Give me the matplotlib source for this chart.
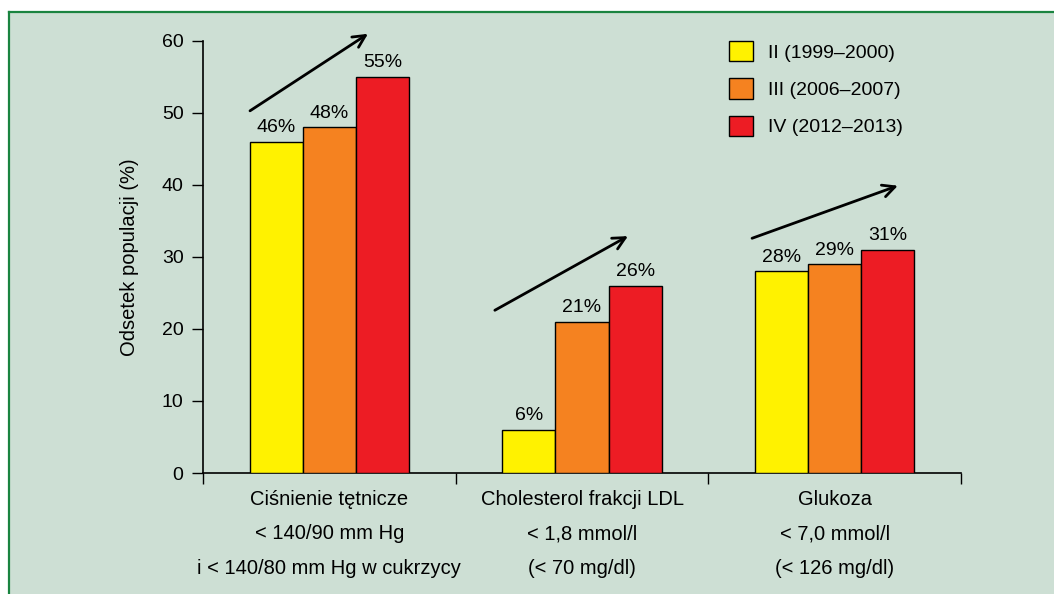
import matplotlib.pyplot as plt
from matplotlib.patches import Rectangle
import numpy as np

plt.rcParams['font.family'] = ['Liberation Sans', 'DejaVu Sans']

# Data
categories = ['Ciśnienie tętnicze\n< 140/90 mm Hg\ni < 140/80 mm Hg w cukrzycy',
              'Cholesterol frakcji LDL\n< 1,8 mmol/l\n(< 70 mg/dl)',
              'Glukoza\n< 7,0 mmol/l\n(< 126 mg/dl)']
series_names = ['II (1999–2000)', 'III (2006–2007)', 'IV (2012–2013)']
values_ii = [46, 6, 28]
values_iii = [48, 21, 29]
values_iv = [55, 26, 31]
colors = ['#fff200', '#f58220', '#ed1c24']

# Trend arrows (start, end) in data coords
arrows = [((-0.314, 50.3), (0.153, 61.0)),
          ((0.655, 22.6), (1.182, 32.9)),
          ((1.673, 32.6), (2.25, 39.9))]

fig = plt.figure(figsize=(10.54, 5.94), dpi=100, facecolor='white')

# greenish panel with green border on top and left
panel_x0 = 9 / 1054
panel_y1 = 1 - 12 / 594
fig.add_artist(Rectangle((panel_x0, 0), 1 - panel_x0, panel_y1,
                         transform=fig.transFigure, facecolor='#cddfd4',
                         edgecolor='none', zorder=-10))
fig.add_artist(plt.Line2D([panel_x0, panel_x0], [0, panel_y1], color='#1a8440', lw=1.6,
                          transform=fig.transFigure, zorder=-5))
fig.add_artist(plt.Line2D([panel_x0, 1], [panel_y1, panel_y1], color='#1a8440', lw=1.6,
                          transform=fig.transFigure, zorder=-5))

ax = fig.add_axes([0.1926, 0.2037, 0.7192, 0.7273])
ax.set_facecolor('none')

x = np.arange(len(categories))
w = 0.21
for i, vals in enumerate([values_ii, values_iii, values_iv]):
    bars = ax.bar(x + (i - 1) * w, vals, w, color=colors[i], edgecolor='black',
                  linewidth=1.0, label=series_names[i], zorder=3)
    ax.bar_label(bars, labels=[f'{v}%' for v in vals], padding=4, fontsize=14)

for (x0, y0), (x1, y1) in arrows:
    ax.annotate('', xy=(x1, y1), xytext=(x0, y0), annotation_clip=False,
                arrowprops=dict(arrowstyle='->', lw=2, color='black',
                                mutation_scale=22, shrinkA=0, shrinkB=0))

ax.set_xlim(-0.5, 2.5)
ax.set_ylim(0, 60)
ax.set_yticks([0, 10, 20, 30, 40, 50, 60])
ax.tick_params(axis='y', length=8, width=1, pad=6, labelsize=14)
ax.set_ylabel('Odsetek populacji (%)', fontsize=14.5, labelpad=16)

ax.set_xticks([-0.5, 0.5, 1.5, 2.5])
ax.set_xticklabels([])
ax.tick_params(axis='x', which='major', length=8, width=1)
ax.set_xticks(x, minor=True)
ax.set_xticklabels(categories, minor=True, fontsize=14.5)
ax.tick_params(axis='x', which='minor', length=0, pad=12)
for lbl in ax.get_xticklabels(minor=True):
    lbl.set_linespacing(2.05)

for s in ['top', 'right']:
    ax.spines[s].set_visible(False)
ax.spines['left'].set_linewidth(1.2)
ax.spines['bottom'].set_linewidth(1.2)

ax.legend(loc='upper left', bbox_to_anchor=(729 / 1054, 1 - 41 / 594),
          bbox_transform=fig.transFigure, frameon=False, fontsize=14,
          handlelength=1.24, handleheight=1.24, labelspacing=0.85,
          handletextpad=0.75, borderpad=0, borderaxespad=0)

fig.savefig('out.png', dpi=100, facecolor=fig.get_facecolor())
